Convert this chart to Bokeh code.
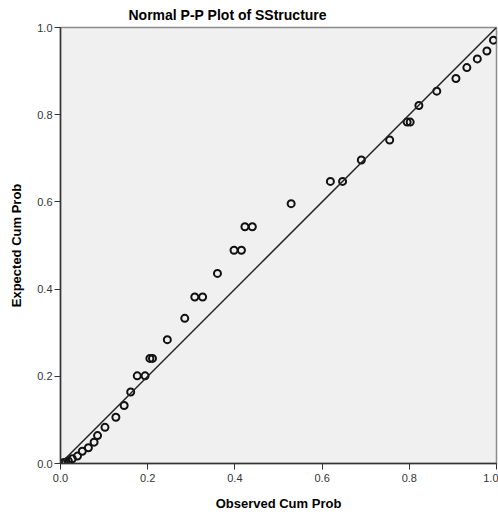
from bokeh.plotting import figure
from bokeh.models import ColumnDataSource, Slope, FixedTicker, NumeralTickFormatter, Range1d
from bokeh.embed import file_html
from bokeh.resources import INLINE

title_text = "Normal P-P Plot of SStructure"
x_label = "Observed Cum Prob"
y_label = "Expected Cum Prob"
tick_values = [0.0, 0.2, 0.4, 0.6, 0.8, 1.0]

observed_cum_prob = [
    0.004, 0.008, 0.012, 0.018, 0.027, 0.039, 0.050, 0.064, 0.077, 0.085,
    0.102, 0.127, 0.146, 0.161, 0.176, 0.194, 0.205, 0.211, 0.245, 0.285,
    0.308, 0.326, 0.360, 0.398, 0.415, 0.423, 0.440, 0.529, 0.619, 0.647,
    0.690, 0.755, 0.795, 0.802, 0.822, 0.863, 0.907, 0.932, 0.956, 0.978,
    0.993,
]
expected_cum_prob = [
    0.001, 0.002, 0.003, 0.006, 0.011, 0.017, 0.028, 0.036, 0.049, 0.064,
    0.083, 0.106, 0.133, 0.164, 0.201, 0.201, 0.241, 0.241, 0.284, 0.333,
    0.382, 0.382, 0.436, 0.489, 0.489, 0.543, 0.543, 0.596, 0.647, 0.647,
    0.696, 0.742, 0.783, 0.783, 0.821, 0.854, 0.883, 0.908, 0.928, 0.946,
    0.971,
]

src = ColumnDataSource(dict(x=observed_cum_prob, y=expected_cum_prob))

p = figure(
    width=498, height=515,
    x_range=Range1d(0, 1), y_range=Range1d(0, 1),
    output_backend="svg", toolbar_location=None,
    min_border_left=60, min_border_right=2, min_border_top=27, min_border_bottom=52,
)
p.title.text = title_text
p.title.text_font = "Liberation Sans"
p.title.text_font_size = "14px"
p.title.text_font_style = "bold"
p.title.text_color = "#000000"
p.title.align = "left"
p.title.vertical_align = "middle"
p.title.offset = 68
p.title.standoff = 8

p.background_fill_color = "#f0f0f0"
p.border_fill_color = "#ffffff"
p.outline_line_color = "#8c8c8c"
p.outline_line_width = 1.5
p.xgrid.visible = False
p.ygrid.visible = False

for ax, lab in ((p.xaxis[0], x_label), (p.yaxis[0], y_label)):
    ax.axis_label = lab
    ax.axis_label_text_font = "Liberation Sans"
    ax.axis_label_text_font_size = "13px"
    ax.axis_label_text_font_style = "bold"
    ax.axis_label_text_color = "#000000"
    ax.major_label_text_font = "Liberation Sans"
    ax.major_label_text_font_size = "11px"
    ax.major_label_text_color = "#333333"
    ax.ticker = FixedTicker(ticks=tick_values)
    ax.formatter = NumeralTickFormatter(format="0.0")
    ax.major_tick_in = 0
    ax.major_tick_out = 6
    ax.minor_tick_in = 0
    ax.minor_tick_out = 0
    ax.axis_line_color = "#333333"
    ax.axis_line_width = 1.5
    ax.major_tick_line_color = "#333333"
    ax.major_label_standoff = 2

p.xaxis[0].major_label_standoff = 4
p.xaxis[0].axis_label_standoff = 11
p.yaxis[0].axis_label_standoff = 10

p.add_layout(Slope(gradient=1, y_intercept=0, line_color="#222222", line_width=1.5))

p.scatter("x", "y", source=src, marker="circle", size=7, fill_alpha=0,
          line_color="#111111", line_width=2)

open("out.html", "w").write(file_html(p, INLINE))
